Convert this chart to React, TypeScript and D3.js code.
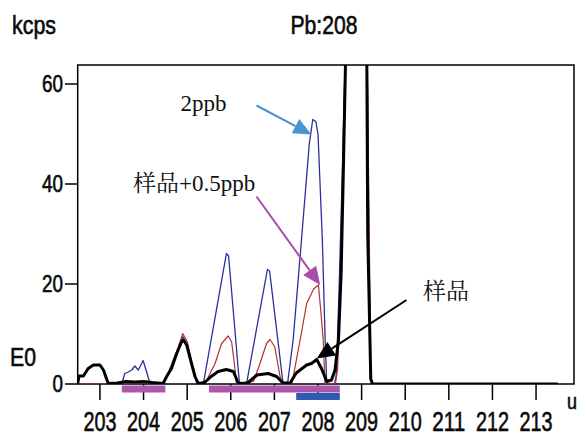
import * as d3 from "d3";

// mass axis (amu) and count axis (kcps)
const xTicks = [203, 204, 205, 206, 207, 208, 209, 210, 211, 212, 213];
const yTicks = [0, 20, 40, 60];
const massRange = [202.49, 213.87];
const kcpsRange = [0, 63.8];

// 样品 (sample) - thick black trace
const sample: [number, number][] = [
  [202.49, 0.1], [202.52, 1.6], [202.62, 1.6], [202.73, 3.1], [202.85, 3.8], [203.0, 3.8],
  [203.08, 2.8], [203.19, 0.1], [203.4, 0.2], [203.6, 0.5], [203.8, 0.4], [204.0, 0.5],
  [204.2, 0.3], [204.45, 0.1], [204.53, 1.5], [204.64, 3.1], [204.76, 6.1], [204.87, 8.4],
  [204.91, 8.8], [204.99, 7.8], [205.1, 4.1], [205.18, 1.5], [205.25, 0.1], [205.4, 0.3],
  [205.55, 1.5], [205.71, 2.5], [205.9, 2.9], [206.06, 2.5], [206.17, 0.2], [206.3, 0.1],
  [206.4, 0.3], [206.6, 1.8], [206.86, 2.1], [207.05, 1.5], [207.2, 0.2], [207.36, 0.2],
  [207.5, 2.2], [207.62, 3.0], [207.74, 3.8], [207.85, 4.1], [207.97, 4.9], [208.08, 3.1],
  [208.2, 0.5], [208.31, 0.8], [208.39, 2.8], [208.47, 8.8], [208.53, 22], [208.58, 42],
  [208.63, 64], [208.72, 120], [209.05, 120], [209.12, 64], [209.14, 30], [209.21, 1],
  [209.25, 0], [213.5, 0],
];

// 样品+0.5ppb - thin red trace
const spiked: [number, number][] = [
  [202.49, 0], [204.44, 0], [204.55, 1.8], [204.76, 6.5], [204.9, 10.1], [205.0, 8.5],
  [205.1, 4.5], [205.2, 1.2], [205.3, 0], [205.45, 0.8], [205.64, 4.1], [205.79, 8.1],
  [205.94, 9.6], [206.02, 8.4], [206.1, 2.8], [206.13, 0], [206.52, 0.5], [206.67, 4.1],
  [206.82, 8.1], [206.9, 8.9], [207.01, 7.4], [207.13, 1.5], [207.17, 0], [207.4, 0],
  [207.59, 8.8], [207.74, 16.1], [207.9, 19], [208.01, 19.8], [208.06, 15], [208.12, 8.8],
  [208.16, 0], [208.4, 0], [208.45, 3], [208.5, 16], [208.6, 55], [208.63, 64],
  [208.72, 120], [209.05, 120], [209.13, 64], [209.2, 1], [209.25, 0],
];

// 2ppb - thin blue trace
const std2ppb: [number, number][] = [
  [202.49, 0], [203.5, 0], [203.57, 2.1], [203.65, 2.4], [203.73, 2.8], [203.8, 3.6],
  [203.88, 2.8], [203.99, 4.7], [204.07, 2.4], [204.15, 0], [204.44, 0], [204.55, 1.8],
  [204.76, 6.4], [204.9, 9.5], [205.0, 8.0], [205.1, 4.2], [205.2, 1.0], [205.3, 0],
  [205.37, 0], [205.9, 26.1], [205.95, 25.6], [206.2, 0], [206.36, 0], [206.84, 22.9],
  [206.89, 22.6], [207.2, 0], [207.3, 0], [207.43, 8.8], [207.62, 28.7], [207.8, 48],
  [207.88, 52.9], [207.95, 52.5], [208.0, 50], [208.1, 28.7], [208.16, 10], [208.2, 0],
  [208.38, 0], [208.42, 2], [208.48, 18], [208.55, 40], [208.62, 64], [208.72, 120],
  [209.05, 120], [209.13, 64], [209.21, 1], [209.26, 0],
];

// integration windows under the axis
const purpleBands: [number, number][] = [[203.5, 204.5], [205.5, 208.5]];
const blueBands: [number, number][] = [[207.5, 208.5]];

// annotations: text anchor and arrow (from -> to) in data units
const notes = [
  { text: "2ppb", at: [204.85, 54.7], from: [206.59, 55.7], to: [207.85, 49.9], color: "#4b92d4" },
  { text: "样品+0.5ppb", at: [203.76, 38.7], from: [206.59, 37.5], to: [208.05, 19.8], color: "#a84ea8" },
  { text: "样品", at: [210.41, 17.0], from: [210.03, 16.8], to: [207.97, 5.1], color: "#000000" },
];

const W = 579;
const H = 437;
const sans = '"Liberation Sans", Arial, sans-serif';
const serif = '"Liberation Serif", "Times New Roman", "Noto Serif CJK SC", "Noto Sans CJK SC", serif';

function arrowHead(x1: number, y1: number, x2: number, y2: number, len = 18, half = 8) {
  const a = Math.atan2(y2 - y1, x2 - x1);
  const bx = x2 - len * Math.cos(a);
  const by = y2 - len * Math.sin(a);
  const px = -Math.sin(a) * half;
  const py = Math.cos(a) * half;
  return {
    base: [bx, by],
    points: `${x2},${y2} ${bx + px},${by + py} ${bx - px},${by - py}`,
  };
}

// condensed sans label, squeezed to the width it has in the picture
function Narrow(props: {
  x: number;
  y: number;
  size: number;
  width: number;
  anchor?: string;
  dy?: string;
  children: any;
}) {
  return (
    <text
      x={props.x}
      y={props.y}
      dy={props.dy}
      textAnchor={props.anchor ?? "start"}
      fontFamily={sans}
      fontSize={props.size}
      textLength={props.width}
      lengthAdjust="spacingAndGlyphs"
      fill="#0a0a0a"
      stroke="#0a0a0a"
      strokeWidth={0.6}
    >
      {props.children}
    </text>
  );
}

export default function App() {
  const x = d3.scaleLinear().domain(massRange).range([77.7, 574]);
  const y = d3.scaleLinear().domain(kcpsRange).range([384, 65]);
  const line = d3
    .line<[number, number]>()
    .x((d) => x(d[0]))
    .y((d) => y(d[1]));

  const [x0, x1] = x.range();
  const [yb, yt] = y.range();

  return (
    <svg
      width={W}
      height={H}
      style={{ position: "absolute", left: 0, top: 0, background: "#fff" }}
    >
      <defs>
        <clipPath id="plot">
          <rect x={x0} y={yt} width={x1 - x0} height={yb - yt} />
        </clipPath>
      </defs>

      {/* titles */}
      <Narrow x={12} y={34} size={25} width={44}>kcps</Narrow>
      <Narrow x={324} y={34} size={25} width={67} anchor="middle">Pb:208</Narrow>
      <Narrow x={10} y={366} size={25} width={26}>E0</Narrow>
      <Narrow x={567} y={409} size={22} width={10}>u</Narrow>

      {/* y axis */}
      {yTicks.map((t) => (
        <g key={t}>
          <line x1={65} x2={x0} y1={y(t)} y2={y(t)} stroke="#000" strokeWidth={1.5} />
          <Narrow x={63} y={y(t)} dy="0.36em" anchor="end" size={23} width={String(t).length * 10.5}>
            {t}
          </Narrow>
        </g>
      ))}

      {/* x axis */}
      {xTicks.map((t) => (
        <g key={t}>
          <line x1={x(t)} x2={x(t)} y1={yb} y2={400} stroke="#000" strokeWidth={1.5} />
          <Narrow x={x(t)} y={431} anchor="middle" size={27} width={33}>
            {t}
          </Narrow>
        </g>
      ))}

      {/* frame */}
      <rect x={x0} y={yt} width={x1 - x0} height={yb - yt} fill="none" stroke="#000" strokeWidth={1.5} />

      {/* traces */}
      <g clipPath="url(#plot)" fill="none" strokeLinejoin="round">
        <path d={line(std2ppb) ?? ""} stroke="#2b2f9c" strokeWidth={1.3} />
        <path d={line(spiked) ?? ""} stroke="#b3322c" strokeWidth={1.2} />
        <path d={line(sample) ?? ""} stroke="#000" strokeWidth={3} />
      </g>

      {/* bands */}
      {purpleBands.map(([a, b]) => (
        <rect key={`p${a}`} x={x(a)} y={385.5} width={x(b) - x(a)} height={7} fill="#ad58ad" />
      ))}
      {blueBands.map(([a, b]) => (
        <rect key={`b${a}`} x={x(a)} y={393} width={x(b) - x(a)} height={7} fill="#2c5bb0" />
      ))}

      {/* annotations */}
      {notes.map((n) => {
        const fx = x(n.from[0]);
        const fy = y(n.from[1]);
        const tx = x(n.to[0]);
        const ty = y(n.to[1]);
        const head = arrowHead(fx, fy, tx, ty);
        return (
          <g key={n.text}>
            <text x={x(n.at[0])} y={y(n.at[1])} fontFamily={serif} fontSize={23} fill="#111">
              {n.text}
            </text>
            <line x1={fx} y1={fy} x2={head.base[0]} y2={head.base[1]} stroke={n.color} strokeWidth={2} />
            <polygon points={head.points} fill={n.color} />
          </g>
        );
      })}
    </svg>
  );
}
